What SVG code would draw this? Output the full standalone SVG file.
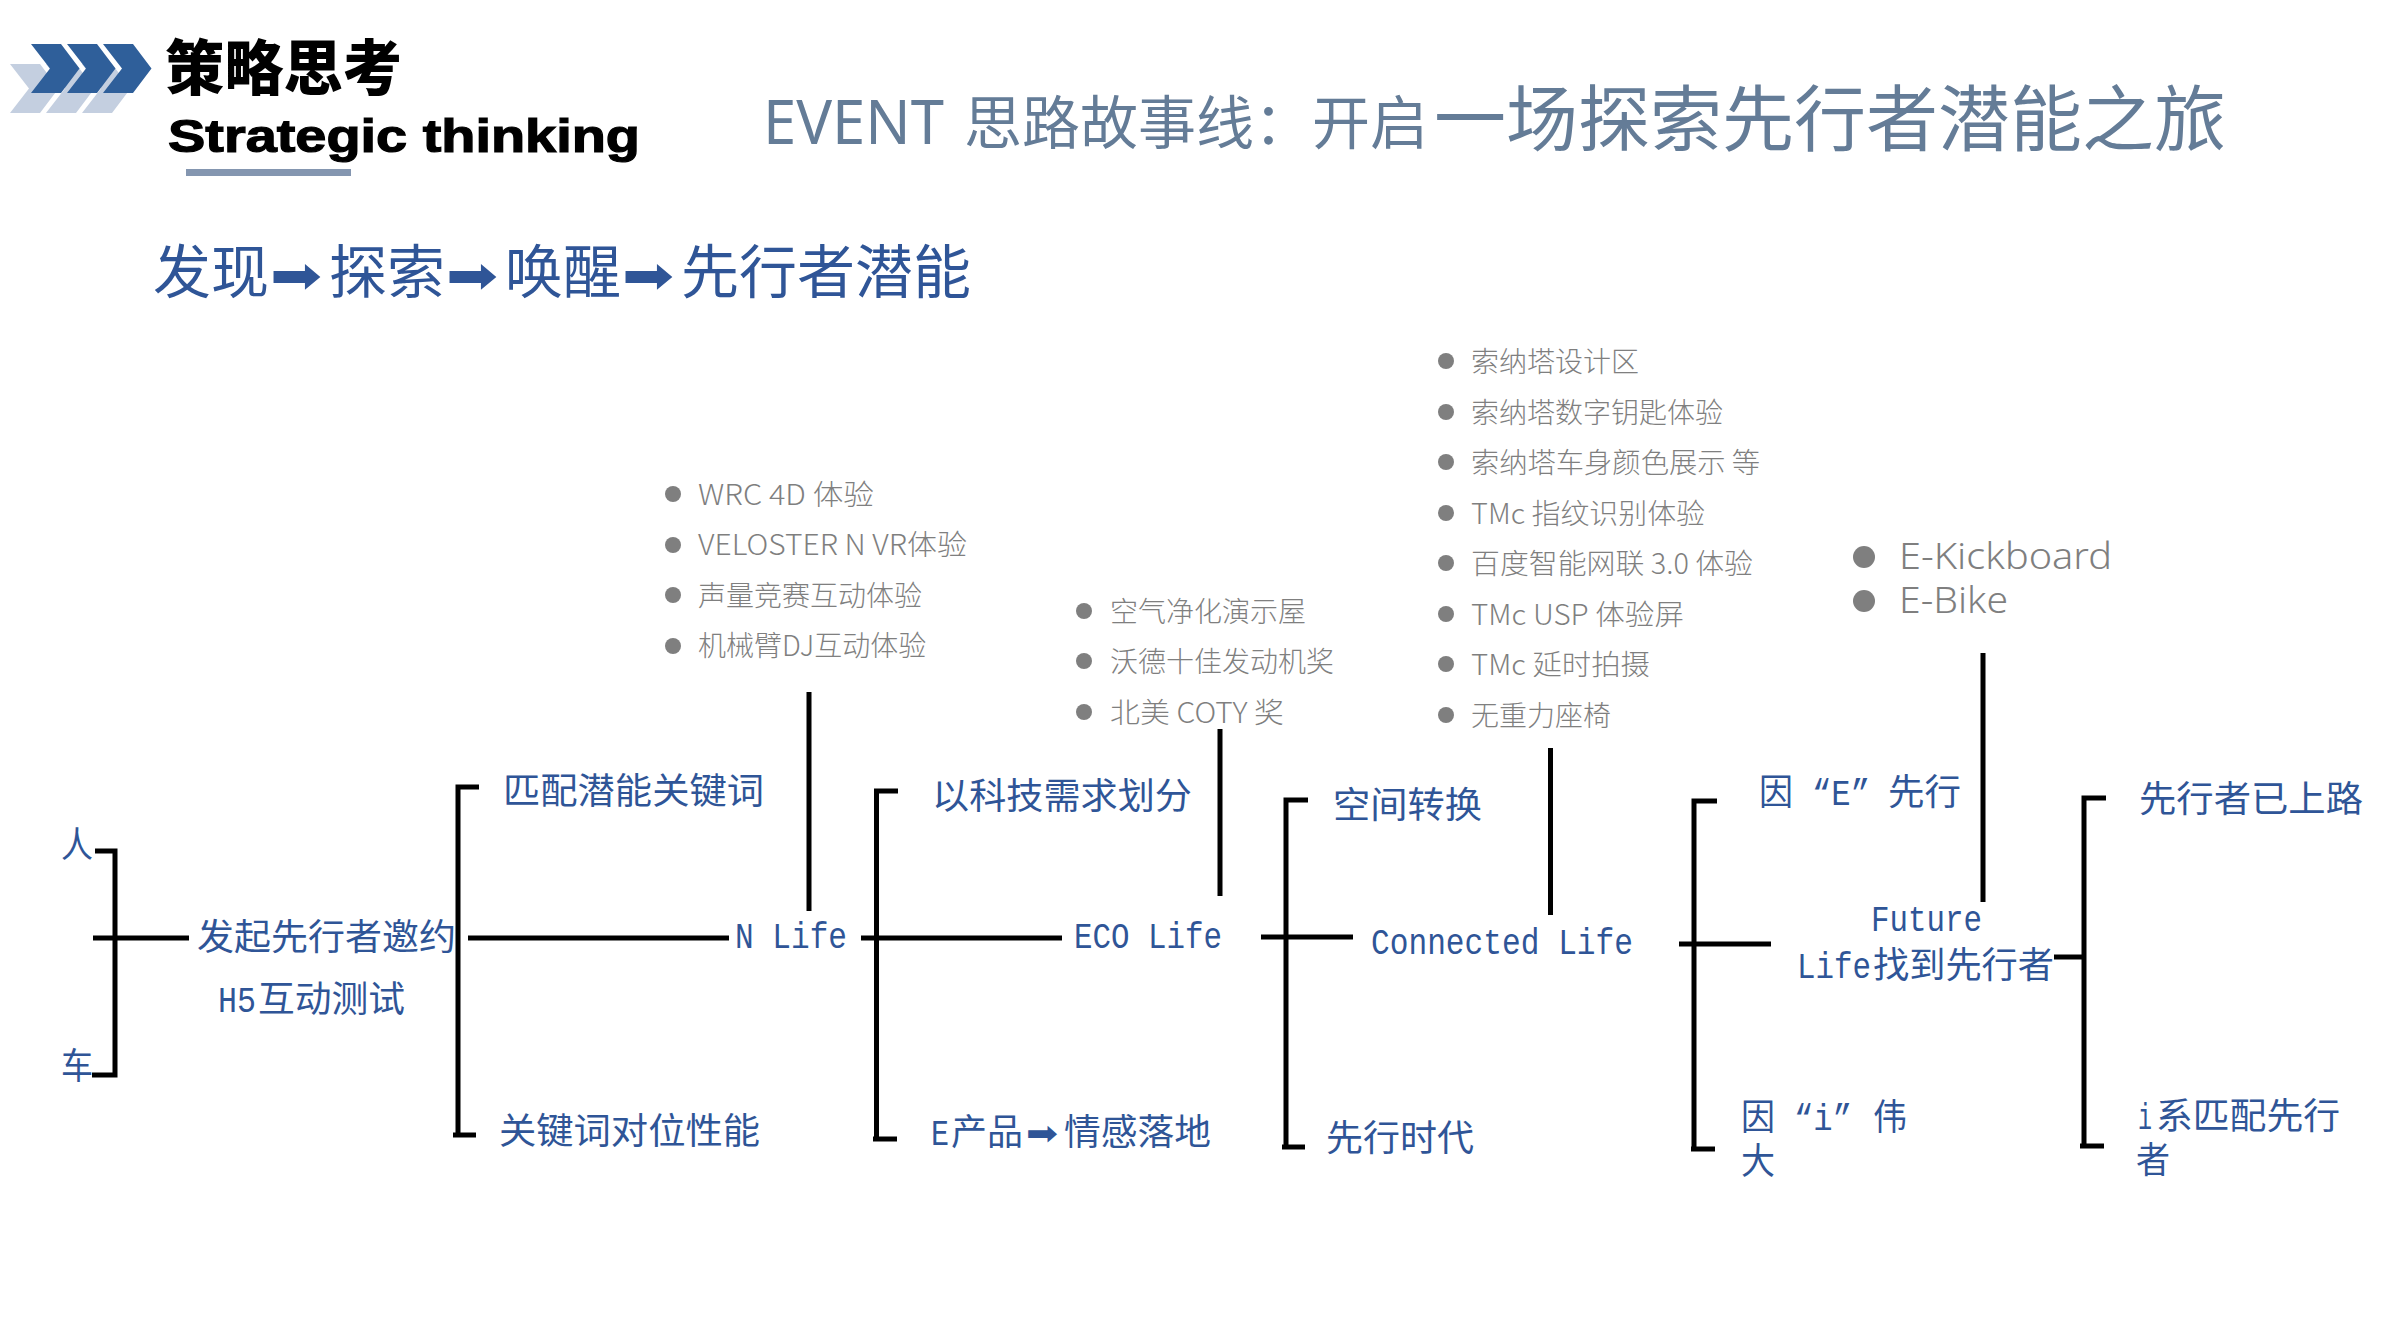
<svg xmlns="http://www.w3.org/2000/svg" width="2400" height="1344" viewBox="0 0 2400 1344">
<style>
text{font-family:"Noto Sans CJK SC","Noto Sans",sans-serif}
.b{fill:#2f5597;font-size:36px;font-family:"Liberation Mono","Noto Sans CJK SC",monospace}
.g{fill:#7f7f7f;font-size:28px;font-weight:300;font-family:"Noto Sans CJK SC",sans-serif}
.g2{fill:#7f7f7f;font-size:36px;font-weight:300;font-family:"Noto Sans","Noto Sans CJK SC",sans-serif}
.dot{fill:#7f7f7f}
.t{fill:#647c97;font-weight:400}
.h{fill:#2f5597;font-size:58px}
.ar{font-family:"DejaVu Sans",sans-serif}
.w{stroke:#000;stroke-width:5;fill:none}
.dk{fill:#2f5f9a}
.lt{fill:#c4cfe0}
</style>
<defs>
<polygon id="chev" points="0,0 30,0 48.500,24.500 30,49 0,49 19,24.500"/>
</defs>
<g id="logo">
<use href="#chev" class="lt" x="10" y="64"/><use href="#chev" class="lt" x="46" y="64"/><use href="#chev" class="lt" x="82" y="64"/>
<use href="#chev" class="dk" x="31" y="44"/><use href="#chev" class="dk" x="67" y="44"/><use href="#chev" class="dk" x="103" y="44"/>
</g>
<g id="header">
<text x="165" y="90" font-size="60" font-weight="900" fill="#000" textLength="237" lengthAdjust="spacingAndGlyphs">策略思考</text>
<text x="168" y="152" font-size="47" font-weight="700" fill="#000" stroke="#000" stroke-width="1.2" style="font-family:'Liberation Sans',sans-serif" textLength="472" lengthAdjust="spacingAndGlyphs">Strategic thinking</text>
<rect x="186" y="169" width="165" height="7" fill="#8496b0"/>
</g>
<g id="title">
<text class="t" y="144"><tspan x="763" font-size="62" style="font-family:'Noto Sans',sans-serif" textLength="181" lengthAdjust="spacingAndGlyphs">EVENT</tspan><tspan x="964" font-size="58">思路故事线&#xFF1A;开启</tspan></text>
<text class="t" x="1434" y="145" font-size="72">一场探索先行者潜能之旅</text>
</g>
<g id="subtitle">
<text class="h" y="293"><tspan x="153">发现</tspan><tspan class="ar" x="270" font-size="52" textLength="52" lengthAdjust="spacingAndGlyphs">➡</tspan><tspan x="329">探索</tspan><tspan class="ar" x="446" font-size="52" textLength="52" lengthAdjust="spacingAndGlyphs">➡</tspan><tspan x="505">唤醒</tspan><tspan class="ar" x="622" font-size="52" textLength="52" lengthAdjust="spacingAndGlyphs">➡</tspan><tspan x="681">先行者潜能</tspan></text>
</g>
<g id="connectors" class="w">
<path d="M95 851H115V1075H92"/><path d="M93 938H189"/>
<path d="M479 787H458V1135"/><path d="M453 1135H476"/><path d="M468 938H729"/><path d="M809 692V911"/>
<path d="M898 791H876.500V1139"/><path d="M873 1139H897"/><path d="M861 938H1062"/><path d="M1220 729V896"/>
<path d="M1308 800H1286V1147"/><path d="M1282 1147H1305"/><path d="M1261 937H1353"/><path d="M1550.500 748V915"/>
<path d="M1717 801H1694V1149"/><path d="M1691 1149H1715"/><path d="M1679 944H1771"/><path d="M1983 653V902"/>
<path d="M2106 798H2084V1146"/><path d="M2080 1146H2104"/><path d="M2054 957H2084"/>
</g>
<g id="n-ren"><text class="b" x="61" y="858" textLength="32" lengthAdjust="spacingAndGlyphs">人</text></g>
<g id="n-che"><text class="b" x="61" y="1079" textLength="32" lengthAdjust="spacingAndGlyphs">车</text></g>
<g id="n-invite"><text class="b" x="197" y="950" textLength="259" lengthAdjust="spacingAndGlyphs">发起先行者邀约</text></g>
<g id="n-h5"><text class="b" x="218" y="1012"><tspan textLength="38" lengthAdjust="spacingAndGlyphs">H5</tspan><tspan x="258" textLength="147" lengthAdjust="spacingAndGlyphs">互动测试</tspan></text></g>
<g id="n-keyword"><text class="b" x="503" y="804" textLength="261" lengthAdjust="spacingAndGlyphs">匹配潜能关键词</text></g>
<g id="n-match"><text class="b" x="499" y="1144" textLength="261" lengthAdjust="spacingAndGlyphs">关键词对位性能</text></g>
<g id="n-nlife"><text class="b" x="735" y="948" textLength="112" lengthAdjust="spacingAndGlyphs">N Life</text></g>
<g id="n-list1">
<circle class="dot" cx="673" cy="494" r="8"/><circle class="dot" cx="673" cy="545" r="8"/><circle class="dot" cx="673" cy="595" r="8"/><circle class="dot" cx="673" cy="646" r="8"/>
<text class="g" x="698" y="505" textLength="176" lengthAdjust="spacingAndGlyphs">WRC 4D 体验</text><text class="g" x="698" y="555" textLength="269" lengthAdjust="spacingAndGlyphs">VELOSTER N VR体验</text><text class="g" x="698" y="606">声量竞赛互动体验</text><text class="g" x="698" y="656">机械臂DJ互动体验</text>
</g>
<g id="n-tech"><text class="b" x="932" y="809" textLength="260" lengthAdjust="spacingAndGlyphs">以科技需求划分</text></g>
<g id="n-eprod"><text class="b" x="931" y="1145"><tspan textLength="18" lengthAdjust="spacingAndGlyphs">E</tspan><tspan x="951" textLength="72" lengthAdjust="spacingAndGlyphs">产品</tspan><tspan class="ar" x="1026" font-size="34" textLength="32" lengthAdjust="spacingAndGlyphs">➡</tspan><tspan x="1064" textLength="147" lengthAdjust="spacingAndGlyphs">情感落地</tspan></text></g>
<g id="n-eco"><text class="b" x="1074" y="948" textLength="148" lengthAdjust="spacingAndGlyphs">ECO Life</text></g>
<g id="n-list2">
<circle class="dot" cx="1084" cy="611" r="8"/><circle class="dot" cx="1084" cy="661" r="8"/><circle class="dot" cx="1084" cy="712" r="8"/>
<text class="g" x="1110" y="622">空气净化演示屋</text><text class="g" x="1110" y="672">沃德十佳发动机奖</text><text class="g" x="1110" y="723" textLength="174" lengthAdjust="spacingAndGlyphs">北美 COTY 奖</text>
</g>
<g id="n-space"><text class="b" x="1333" y="818" textLength="149" lengthAdjust="spacingAndGlyphs">空间转换</text></g>
<g id="n-pioneer"><text class="b" x="1326" y="1151" textLength="148" lengthAdjust="spacingAndGlyphs">先行时代</text></g>
<g id="n-conn"><text class="b" x="1371" y="954" textLength="262" lengthAdjust="spacingAndGlyphs">Connected Life</text></g>
<g id="n-list3">
<circle class="dot" cx="1446" cy="361" r="8"/><circle class="dot" cx="1446" cy="412" r="8"/><circle class="dot" cx="1446" cy="462" r="8"/><circle class="dot" cx="1446" cy="513" r="8"/><circle class="dot" cx="1446" cy="563" r="8"/><circle class="dot" cx="1446" cy="614" r="8"/><circle class="dot" cx="1446" cy="664" r="8"/><circle class="dot" cx="1446" cy="715" r="8"/>
<text class="g" x="1471" y="372">索纳塔设计区</text><text class="g" x="1471" y="423">索纳塔数字钥匙体验</text><text class="g" x="1471" y="473" textLength="289" lengthAdjust="spacingAndGlyphs">索纳塔车身颜色展示 等</text><text class="g" x="1471" y="524" textLength="234" lengthAdjust="spacingAndGlyphs">TMc 指纹识别体验</text><text class="g" x="1471" y="574" textLength="282" lengthAdjust="spacingAndGlyphs">百度智能网联 3.0 体验</text><text class="g" x="1471" y="625" textLength="213" lengthAdjust="spacingAndGlyphs">TMc USP 体验屏</text><text class="g" x="1471" y="675" textLength="179" lengthAdjust="spacingAndGlyphs">TMc 延时拍摄</text><text class="g" x="1471" y="726">无重力座椅</text>
</g>
<g id="n-e"><text class="b" x="1759" y="805"><tspan textLength="34" lengthAdjust="spacingAndGlyphs">因</tspan><tspan x="1812" textLength="58" lengthAdjust="spacingAndGlyphs">“E”</tspan><tspan x="1888" textLength="73" lengthAdjust="spacingAndGlyphs">先行</tspan></text></g>
<g id="n-i"><text class="b" x="1741" y="1130"><tspan textLength="34" lengthAdjust="spacingAndGlyphs">因</tspan><tspan x="1794" textLength="58" lengthAdjust="spacingAndGlyphs">“i”</tspan><tspan x="1873" textLength="34" lengthAdjust="spacingAndGlyphs">伟</tspan></text><text class="b" x="1741" y="1174" textLength="34" lengthAdjust="spacingAndGlyphs">大</text></g>
<g id="n-future"><text class="b" x="1871" y="931" textLength="111" lengthAdjust="spacingAndGlyphs">Future</text><text class="b" x="1797" y="978"><tspan textLength="74" lengthAdjust="spacingAndGlyphs">Life</tspan><tspan x="1873" textLength="181" lengthAdjust="spacingAndGlyphs">找到先行者</tspan></text></g>
<g id="n-list4">
<circle class="dot" cx="1864" cy="557" r="11"/><circle class="dot" cx="1864" cy="601" r="11"/>
<text class="g2" x="1899" y="569" textLength="213" lengthAdjust="spacingAndGlyphs">E-Kickboard</text><text class="g2" x="1899" y="613" textLength="109" lengthAdjust="spacingAndGlyphs">E-Bike</text>
</g>
<g id="n-road"><text class="b" x="2139" y="812" textLength="224" lengthAdjust="spacingAndGlyphs">先行者已上路</text></g>
<g id="n-ipioneer"><text class="b" x="2138" y="1129"><tspan textLength="14" lengthAdjust="spacingAndGlyphs">i</tspan><tspan x="2156" textLength="184" lengthAdjust="spacingAndGlyphs">系匹配先行</tspan></text><text class="b" x="2136" y="1173" textLength="34" lengthAdjust="spacingAndGlyphs">者</text></g>
</svg>
